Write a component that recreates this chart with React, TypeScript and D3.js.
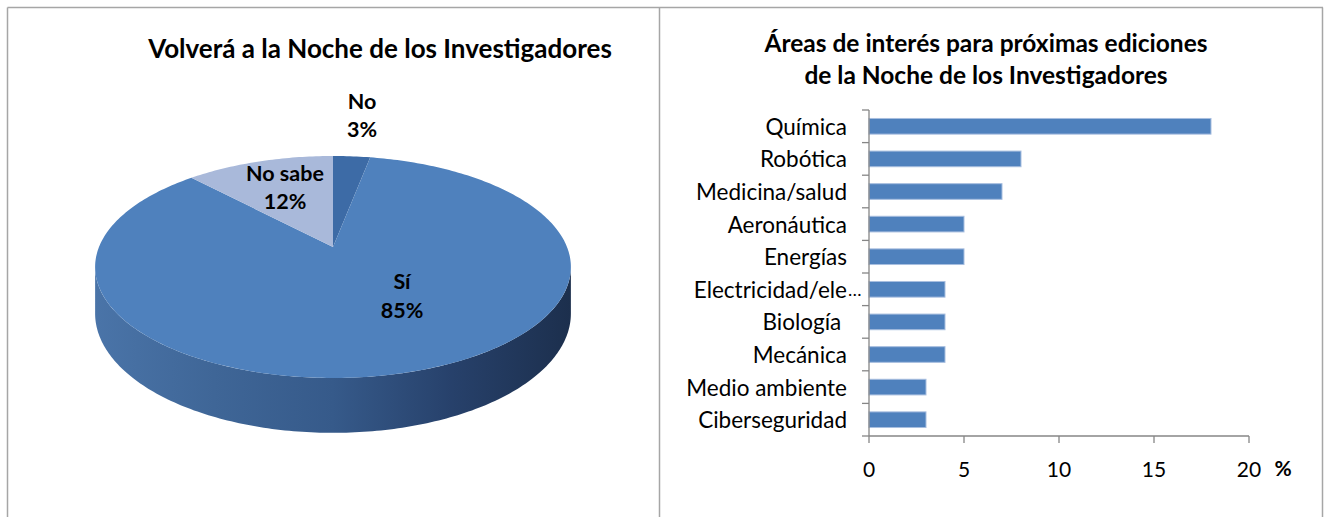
import React from "react";
import * as d3 from "d3";

const pieLabels = ["No", "Sí", "No sabe"];
const pieValues = [3, 85, 12];
const pieColors = ["#3D6BA6", "#4F81BD", "#A9B9DA"];

const categories = [
  "Química",
  "Robótica",
  "Medicina/salud",
  "Aeronáutica",
  "Energías",
  "Electricidad/ele...",
  "Biología ",
  "Mecánica",
  "Medio ambiente",
  "Ciberseguridad",
];
const barValues = [18, 8, 7, 5, 5, 4, 4, 4, 3, 3];
const xTicks = [0, 5, 10, 15, 20];

const FONT = "Lato, 'Open Sans', sans-serif";

// Pie geometry (perspective disk)
const CX = 333;
const CY = 247;
const R = 234;
const B = 107.4;
const K = 0.18;
const DEPTH = 45;

function proj(theta: number, drop = 0): [number, number] {
  const u = Math.sin(theta);
  const v = -Math.cos(theta);
  const s = 1 / (1 - K * v);
  return [CX + R * u * s, CY + (B * v + drop) * s];
}

export default function App() {
  const pie = d3.pie<number>().sort(null)(pieValues);
  const line = d3.line();

  const slicePath = (a0: number, a1: number) => {
    const pts: [number, number][] = [[CX, CY]];
    const n = Math.max(4, Math.ceil(((a1 - a0) * 180) / Math.PI));
    d3.range(n + 1).forEach((i) => pts.push(proj(a0 + ((a1 - a0) * i) / n)));
    return line(pts) + "Z";
  };

  const thL = Math.acos(-K);
  const thR = 2 * Math.PI - thL;
  const sidePts: [number, number][] = [];
  d3.range(0, 181).forEach((i) => sidePts.push(proj(thL + ((thR - thL) * i) / 180)));
  d3.range(0, 181).forEach((i) => sidePts.push(proj(thR - ((thR - thL) * i) / 180, DEPTH)));
  const sidePath = line(sidePts) + "Z";

  // Bar chart
  const x = d3.scaleLinear().domain([0, 20]).range([869, 1249]);
  const y = d3.scaleBand().domain(categories).range([110, 436]).paddingInner(0.52).paddingOuter(0.26);
  const yBounds = d3.range(categories.length + 1).map((i) => 110 + (i * (436 - 110)) / categories.length);

  const pieLabelPos = [
    { x: 362, y1: 101, y2: 129 },
    { x: 402, y1: 281, y2: 310 },
    { x: 285, y1: 173, y2: 201 },
  ];

  return (
    <svg
      width={1325}
      height={517}
      style={{ position: "absolute", left: 0, top: 0, background: "#fff" }}
      fontFamily={FONT}
    >
      <defs>
        <linearGradient id="sideGrad" x1="0" x2="1" y1="0" y2="0">
          <stop offset="0%" stopColor="#4A74A8" />
          <stop offset="25%" stopColor="#3F6697" />
          <stop offset="50%" stopColor="#365A8A" />
          <stop offset="75%" stopColor="#27416B" />
          <stop offset="100%" stopColor="#1C2F4D" />
        </linearGradient>
      </defs>

      {/* frames */}
      <g stroke="#A6A6A6" strokeWidth={1.5}>
        <line x1={7.5} y1={7.5} x2={1323} y2={7.5} />
        <line x1={7.5} y1={7.5} x2={7.5} y2={517} />
        <line x1={659.5} y1={7.5} x2={659.5} y2={517} />
        <line x1={1322.5} y1={7.5} x2={1322.5} y2={517} />
      </g>

      {/* Left: pie */}
      <text x={380} y={48} textAnchor="middle" dominantBaseline="central" fontWeight="bold" fontSize={26} fill="#000">
        Volverá a la Noche de los Investigadores
      </text>
      <path d={sidePath} fill="url(#sideGrad)" />
      {pie.map((p, i) => (
        <path key={i} d={slicePath(p.startAngle, p.endAngle)} fill={pieColors[i]} />
      ))}
      {pieLabels.map((l, i) => (
        <g key={l} fontWeight="bold" fontSize={21.5} textAnchor="middle" fill="#000">
          <text x={pieLabelPos[i].x} y={pieLabelPos[i].y1} dominantBaseline="central">{l}</text>
          <text x={pieLabelPos[i].x} y={pieLabelPos[i].y2} dominantBaseline="central">{pieValues[i]}%</text>
        </g>
      ))}

      {/* Right: bars */}
      <g fontWeight="bold" fontSize={24.5} textAnchor="middle" fill="#000">
        <text x={986} y={42} dominantBaseline="central">Áreas de interés para próximas ediciones</text>
        <text x={986} y={74} dominantBaseline="central">de la Noche de los Investigadores</text>
      </g>

      {categories.map((c, i) => (
        <rect
          key={c}
          x={x(0)}
          y={y(c)}
          width={x(barValues[i]) - x(0)}
          height={y.bandwidth()}
          fill="#4F81BD"
          stroke="#A7BEDF"
          strokeWidth={1}
        />
      ))}

      <g stroke="#868686" strokeWidth={1.3}>
        <line x1={869} y1={110} x2={869} y2={436} />
        {yBounds.map((b, i) => (
          <line key={i} x1={862} y1={b} x2={869} y2={b} />
        ))}
        <line x1={869} y1={436} x2={1249} y2={436} />
        {xTicks.map((t) => (
          <line key={t} x1={x(t)} y1={436} x2={x(t)} y2={443} />
        ))}
      </g>

      <g fontSize={22.5} fill="#000">
        {categories.map((c) => {
          const cy = (y(c) as number) + y.bandwidth() / 2;
          const trunc = c.endsWith("...");
          const main = trunc ? c.slice(0, -3) : c;
          return (
            <g key={c}>
              <text x={847} y={cy} textAnchor="end" dominantBaseline="central" xmlSpace="preserve">
                {main}
              </text>
              {trunc && (
                <text x={848} y={cy} textAnchor="start" dominantBaseline="central" fontSize={18}>
                  …
                </text>
              )}
            </g>
          );
        })}
      </g>
      <g fontSize={21} fill="#000">
        {xTicks.map((t) => (
          <text key={t} x={x(t)} y={468} textAnchor="middle" dominantBaseline="central">{t}</text>
        ))}
      </g>
      <text x={1283} y={467} textAnchor="middle" dominantBaseline="central" fontWeight="bold" fontSize={21}>%</text>
    </svg>
  );
}
